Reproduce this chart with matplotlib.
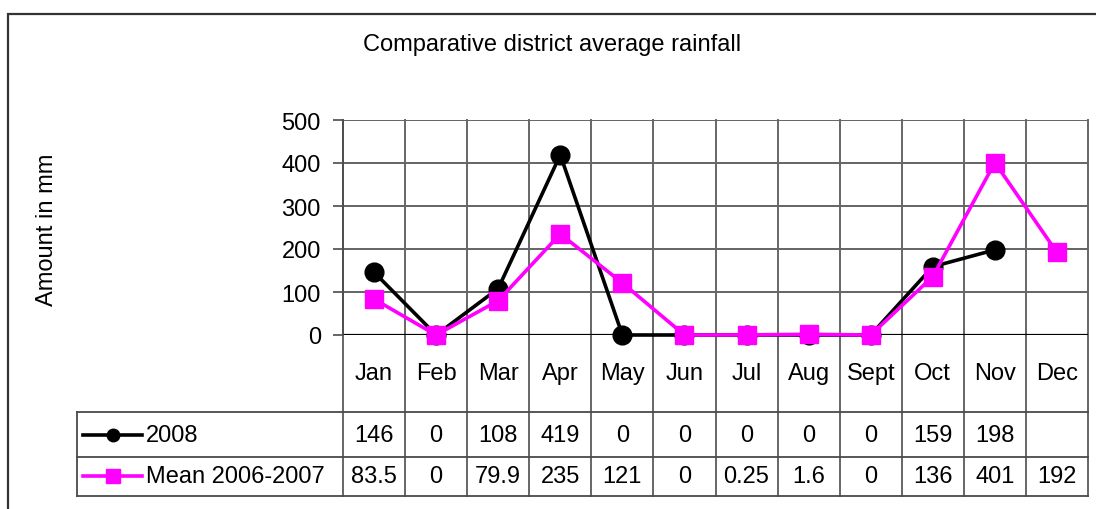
import matplotlib
matplotlib.use("Agg")
import matplotlib.pyplot as plt
import numpy as np
from matplotlib.lines import Line2D
from matplotlib.patches import Rectangle

MONTHS = ["Jan", "Feb", "Mar", "Apr", "May", "Jun", "Jul", "Aug", "Sept", "Oct", "Nov", "Dec"]
RAIN_2008 = [146, 0, 108, 419, 0, 0, 0, 0, 0, 159, 198, np.nan]
RAIN_MEAN = [83.5, 0, 79.9, 235, 121, 0, 0.25, 1.6, 0, 136, 401, 192]
SERIES = ["2008", "Mean 2006-2007"]

W, H = 1096, 510
plt.rcParams["font.family"] = ["Liberation Sans", "DejaVu Sans"]
FS = 17
GRID = "#4a4a4a"


def fx(px):
    return px / W


def fy(py):
    return 1 - py / H


fig = plt.figure(figsize=(W / 100, H / 100), dpi=100)

# outer chart frame (only top and left edges are inside the picture)
fig.add_artist(Rectangle((fx(8), fy(600)), fx(1200), fy(15) - fy(600),
                         transform=fig.transFigure, fill=False,
                         edgecolor="#333333", linewidth=1.6))

left, right, top, bottom = 343, 1088, 121, 336
ax = fig.add_axes([fx(left), fy(bottom), fx(right - left), fy(top) - fy(bottom)])

x = np.arange(len(MONTHS))
ax.plot(x, RAIN_2008, color="black", linewidth=2.6, marker="o",
        markersize=13.5, zorder=3, clip_on=False)
ax.plot(x, RAIN_MEAN, color="#ff00ff", linewidth=2.6, marker="s",
        markersize=13.5, zorder=4, clip_on=False)

ax.set_xlim(-0.5, len(MONTHS) - 0.5)
ax.set_ylim(0, 500)
ax.set_yticks(range(0, 501, 100))
ax.set_xticks([])
ax.tick_params(axis="y", length=7, width=1.2, color=GRID, pad=9, labelsize=FS)
ax.yaxis.grid(True, color=GRID, linewidth=1.2)
ax.set_axisbelow(True)
for s in ["top", "right", "bottom"]:
    ax.spines[s].set_visible(False)
ax.spines["left"].set_color(GRID)
ax.spines["left"].set_linewidth(1.2)
ax.axhline(0, color="black", linewidth=1.6, zorder=2)

# data table below the plot
row_tops = [413, 457.7, 496.7]
ay = lambda py: (bottom - py) / (bottom - top)
trans = ax.get_xaxis_transform()
for k in range(len(MONTHS) + 1):
    ax.plot([k - 0.5, k - 0.5], [1, ay(row_tops[-1])], color="#666666",
            linewidth=1.4, transform=trans, clip_on=False, zorder=1)
for py in row_tops:
    fig.add_artist(Line2D([fx(77), fx(right)], [fy(py), fy(py)],
                          transform=fig.transFigure, color=GRID, linewidth=1.3))
fig.add_artist(Line2D([fx(77), fx(77)], [fy(row_tops[0]), fy(row_tops[-1])],
                      transform=fig.transFigure, color=GRID, linewidth=1.3))

for i, m in enumerate(MONTHS):
    ax.text(i, ay(374), m, transform=trans, ha="center", va="center", fontsize=FS)

row_y = [436, 477]
for vals, py in zip([RAIN_2008, RAIN_MEAN], row_y):
    for i, v in enumerate(vals):
        if np.isnan(v):
            continue
        ax.text(i, ay(py), f"{v:g}", transform=trans, ha="center",
                va="center", fontsize=FS)

# legend keys in the table rows
styles = [("black", "o", 9), ("#ff00ff", "s", 10.5)]
for (c, mk, ms), name, py in zip(styles, SERIES, row_y):
    fig.add_artist(Line2D([fx(83), fx(142)], [fy(py), fy(py)],
                          transform=fig.transFigure, color=c, linewidth=2.6))
    fig.add_artist(Line2D([fx(112.5)], [fy(py)], transform=fig.transFigure,
                          color=c, marker=mk, markersize=ms, linestyle="none"))
    fig.text(fx(146), fy(py), name, ha="left", va="center", fontsize=FS)

fig.text(fx(552), fy(45), "Comparative district average rainfall",
         ha="center", va="center", fontsize=FS)
fig.text(fx(47), fy(230), "Amount in mm", ha="center", va="center",
         rotation=90, fontsize=FS)

fig.savefig("out.png", dpi=100)
